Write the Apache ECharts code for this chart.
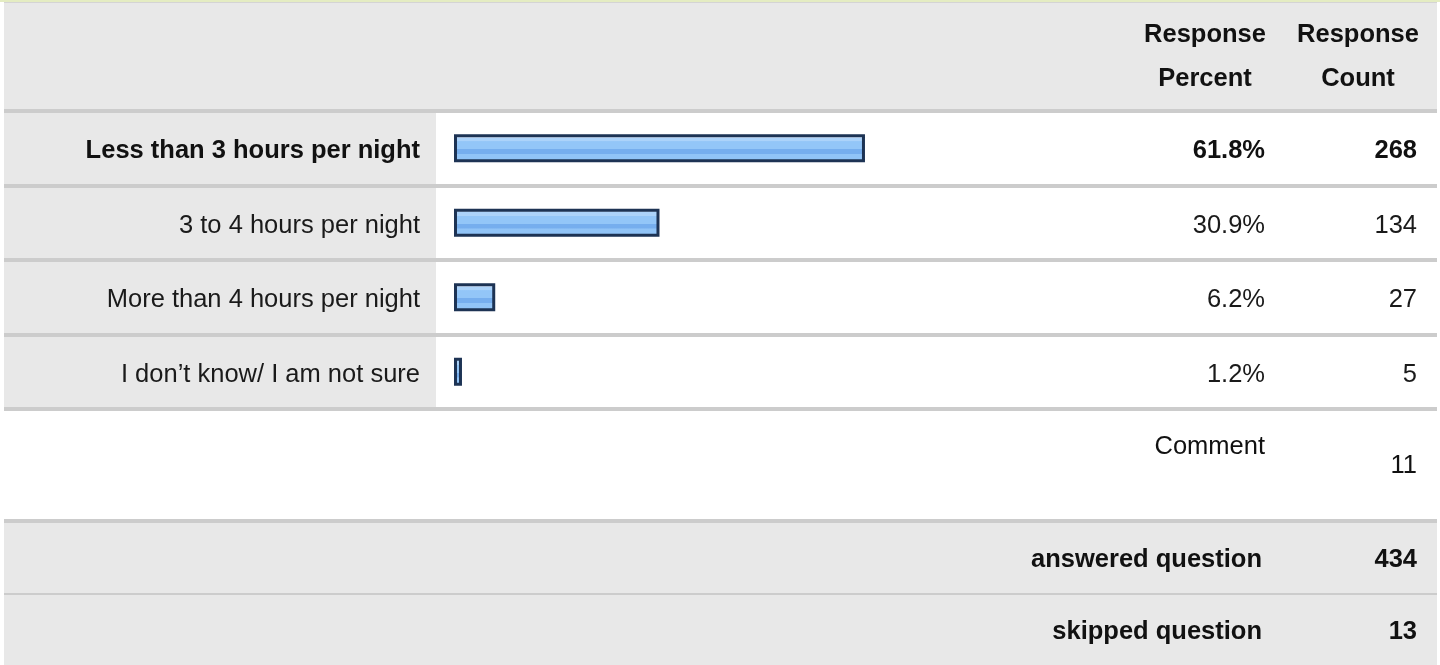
<!DOCTYPE html>
<html>
<head>
<meta charset="utf-8">
<script src="https://cdn.jsdelivr.net/npm/echarts@6/dist/echarts.min.js"></script>
<style>
html,body{margin:0;padding:0;background:#fff;}
#chart{width:1440px;height:665px;}
</style>
</head>
<body>
<div id="chart"></div>
<script>
// ---- data ----
const categories = ['Less than 3 hours per night', '3 to 4 hours per night', 'More than 4 hours per night', 'I don\u2019t know/ I am not sure'];
const percents = [61.8, 30.9, 6.2, 1.2];
const counts = [268, 134, 27, 5];
const headerLabels = ['Response\nPercent', 'Response\nCount'];
const commentLabel = 'Comment';
const commentCount = 11;
const summaryLabels = ['answered question', 'skipped question'];
const summaryValues = [434, 13];
const boldRow = 0;

// ---- layout ----
const FONT = '"Liberation Sans", Arial, Helvetica, sans-serif';
const FS = 25.5;
const X0 = 4, X1 = 1437;
const GRID_TOP = 111, GRID_H = 298;
const BAR_LEFT = 454, BAR_W = 665;
const LABEL_COL_R = 436;
const PCT_R = 1265, CNT_R = 1417;
const GRAY = '#e8e8e8', SEP = '#cccccc';

const chart = echarts.init(document.getElementById('chart'), null, {renderer: 'canvas'});

const barGradient = new echarts.graphic.LinearGradient(0, 0, 0, 1, [
  {offset: 0, color: '#cfe5fc'},
  {offset: 0.12, color: '#cfe5fc'},
  {offset: 0.13, color: '#acd3fa'},
  {offset: 0.25, color: '#acd3fa'},
  {offset: 0.26, color: '#93c6f8'},
  {offset: 0.53, color: '#93c6f8'},
  {offset: 0.54, color: '#76aeee'},
  {offset: 0.70, color: '#76aeee'},
  {offset: 0.71, color: '#91c4f7'},
  {offset: 0.92, color: '#91c4f7'},
  {offset: 0.93, color: '#a9d1f9'},
  {offset: 1, color: '#a9d1f9'}
]);

const rightAxisW = BAR_LEFT + BAR_W;

function txt(x, y, text, align, bold) {
  return {
    type: 'text', x: x, y: y, z: 10,
    style: {
      text: String(text), fill: '#111', font: (bold ? 'bold ' : '') + FS + 'px ' + FONT,
      textAlign: align, textVerticalAlign: 'middle', lineHeight: 44
    }
  };
}

const graphics = [
  {type: 'rect', shape: {x: 0, y: 0, width: 1440, height: 2}, style: {fill: '#e4ecc2'}, z: 0},
  {type: 'rect', shape: {x: X0, y: 2, width: X1 - X0, height: 1}, style: {fill: '#d4d4d4'}, z: 0},
  {type: 'rect', shape: {x: X0, y: 3, width: X1 - X0, height: GRID_TOP - 3}, style: {fill: GRAY}, z: 0},
  {type: 'rect', shape: {x: X0, y: GRID_TOP, width: LABEL_COL_R - X0, height: GRID_H}, style: {fill: GRAY}, z: 0},
  {type: 'rect', shape: {x: X0, y: 521, width: X1 - X0, height: 144}, style: {fill: GRAY}, z: 0},
  {type: 'rect', shape: {x: X0, y: 519, width: X1 - X0, height: 4}, style: {fill: SEP}, z: 1},
  {type: 'rect', shape: {x: X0, y: 593, width: X1 - X0, height: 2}, style: {fill: SEP}, z: 1},
  txt(1205, 57, headerLabels[0], 'center', true),
  txt(1358, 57, headerLabels[1], 'center', true),
  txt(PCT_R, 447, commentLabel, 'right', false),
  txt(CNT_R, 466, commentCount, 'right', false),
  txt(PCT_R - 3, 560, summaryLabels[0], 'right', true),
  txt(CNT_R, 560, summaryValues[0], 'right', true),
  txt(PCT_R - 3, 632, summaryLabels[1], 'right', true),
  txt(CNT_R, 632, summaryValues[1], 'right', true)
];

const PAD = [6, 0, 0, 0];

const option = {
  animation: false,
  backgroundColor: '#ffffff',
  textStyle: {fontFamily: FONT},
  graphic: {elements: graphics},
  grid: [
    {left: BAR_LEFT, width: BAR_W, top: GRID_TOP, height: GRID_H, containLabel: false},
    {left: X0, width: X1 - X0, top: GRID_TOP, height: GRID_H, containLabel: false}
  ],
  xAxis: [
    {gridIndex: 0, type: 'value', min: 0, max: 100, show: false},
    {gridIndex: 1, type: 'value', min: 0, max: 100, show: false}
  ],
  yAxis: [
    {
      gridIndex: 0, type: 'category', inverse: true, data: categories, position: 'left',
      axisLine: {show: false}, axisTick: {show: false}, splitLine: {show: false},
      axisLabel: {
        margin: BAR_LEFT - 420, fontSize: FS, color: '#111', fontFamily: FONT,
        formatter: function (v, i) { return i === boldRow ? '{b|' + v + '}' : '{n|' + v + '}'; },
        rich: {
          b: {fontWeight: 'bold', fontSize: FS, fontFamily: FONT, color: '#111', padding: PAD},
          n: {fontSize: FS, fontFamily: FONT, color: '#1a1a1a', padding: PAD}
        }
      }
    },
    {
      gridIndex: 0, type: 'category', inverse: true, data: categories, position: 'right',
      axisLine: {show: false}, axisTick: {show: false}, splitLine: {show: false},
      axisLabel: {
        margin: 0, fontSize: FS, fontFamily: FONT,
        formatter: function (v, i) {
          const s = i === boldRow ? 'b' : 'n';
          return '{p' + s + '|' + percents[i].toFixed(1) + '%}{c' + s + '|' + counts[i] + '}';
        },
        rich: {
          pb: {width: PCT_R - rightAxisW, align: 'right', fontWeight: 'bold', fontSize: FS, fontFamily: FONT, color: '#111', padding: PAD},
          cb: {width: CNT_R - PCT_R, align: 'right', fontWeight: 'bold', fontSize: FS, fontFamily: FONT, color: '#111', padding: PAD},
          pn: {width: PCT_R - rightAxisW, align: 'right', fontSize: FS, fontFamily: FONT, color: '#1a1a1a', padding: PAD},
          cn: {width: CNT_R - PCT_R, align: 'right', fontSize: FS, fontFamily: FONT, color: '#1a1a1a', padding: PAD}
        }
      }
    },
    {
      gridIndex: 1, type: 'category', inverse: true, data: categories,
      axisLine: {show: false}, axisTick: {show: false}, axisLabel: {show: false},
      splitLine: {show: true, lineStyle: {color: SEP, width: 4}}
    }
  ],
  series: [{
    type: 'bar', xAxisIndex: 0, yAxisIndex: 0, data: percents,
    barWidth: 28,
    itemStyle: {color: barGradient, borderColor: '#1d3354', borderWidth: 3},
    silent: true
  }]
};

chart.setOption(option);
</script>
</body>
</html>
